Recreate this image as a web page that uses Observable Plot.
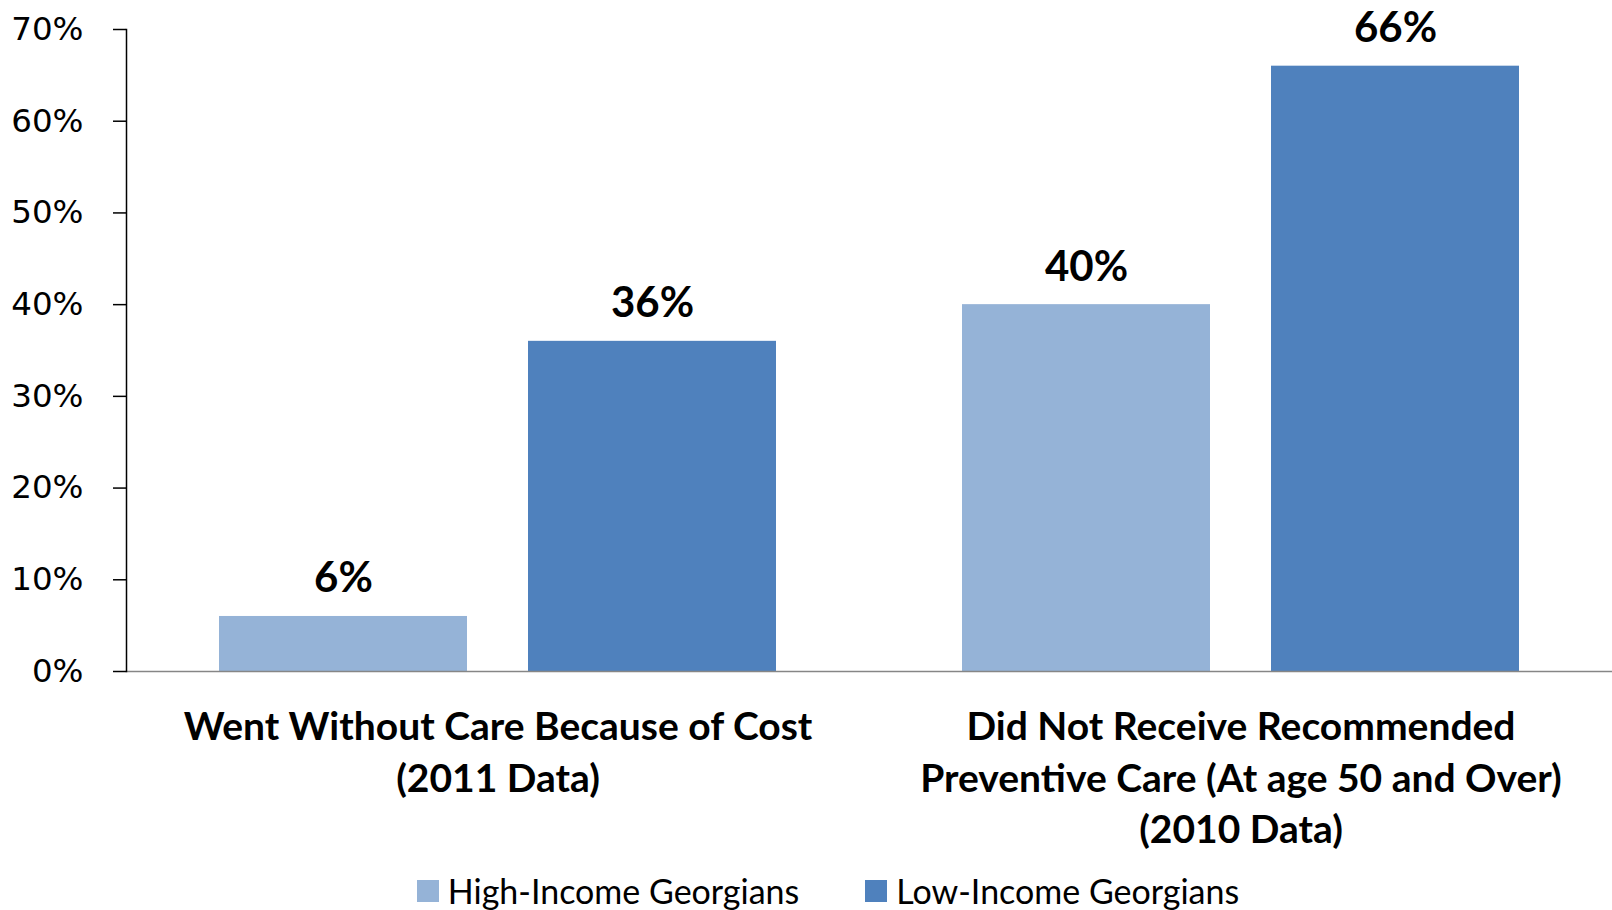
<!DOCTYPE html>
<html>
<head>
<meta charset="utf-8">
<script src="https://cdn.jsdelivr.net/npm/d3@7"></script>
<script src="https://cdn.jsdelivr.net/npm/@observablehq/plot@0.6"></script>
<style>
  html, body { margin: 0; padding: 0; background: #fff; }
  #chart { width: 1612px; }
  div.lg-swatches { justify-content: center; margin: 10px 0 0 0; font-family: Lato, sans-serif; font-size: 34px; color: #000; min-height: 0; padding-left: 44px; }
  span.lg-swatch { margin-right: 66px; }
  span.lg-swatch:last-child { margin-right: 0; }
  span.lg-swatch > svg { margin-right: 9px; }
</style>
</head>
<body>
<div id="chart"></div>
<script>
const categories = [
  "Went Without Care Because of Cost\n(2011 Data)",
  "Did Not Receive Recommended\nPreventive Care (At age 50 and Over)\n(2010 Data)"
];
const groups = ["High-Income Georgians", "Low-Income Georgians"];
const highIncome = [6, 40];
const lowIncome = [36, 66];
const yTicks = [0, 10, 20, 30, 40, 50, 60, 70];
const colors = ["#95B3D7", "#4F81BD"];

const data = [];
categories.forEach((c, i) => {
  data.push({category: c, group: groups[0], value: highIncome[i]});
  data.push({category: c, group: groups[1], value: lowIncome[i]});
});

const plot = Plot.plot({
  width: 1612,
  height: 860,
  marginLeft: 125,
  marginRight: 0,
  marginTop: 29,
  marginBottom: 189,
  style: {fontFamily: "Lato, sans-serif", background: "#fff", color: "#000"},
  fx: {domain: categories, padding: 0},
  x: {domain: groups, paddingInner: 0.197, paddingOuter: 0.2976, axis: null},
  y: {domain: [0, 70], axis: null},
  color: {domain: groups, range: colors},
  marks: [
    Plot.barY(data, {fx: "category", x: "group", y: "value", fill: "group"}),
    Plot.ruleY([0], {stroke: "#868686", strokeWidth: 1.5}),
    Plot.frame({anchor: "left", facetAnchor: "left", stroke: "#000", strokeWidth: 1.5}),
    Plot.axisY({
      ticks: yTicks,
      tickFormat: d => d + "%",
      tickSize: 13,
      tickPadding: 30,
      fontSize: 32.5,
      fontFamily: "DejaVu Sans, sans-serif",
      stroke: "#000",
      strokeWidth: 1.5,
      label: null
    }),
    Plot.axisFx({
      anchor: "bottom",
      tickSize: 0,
      tickPadding: 32,
      fontSize: 39,
      fontWeight: "bold",
      lineHeight: 1.32,
      label: null
    }),
    Plot.text(data, {
      fx: "category", x: "group", y: "value",
      text: d => d.value + "%",
      lineAnchor: "bottom",
      dy: -24,
      fontSize: 42,
      fontWeight: "bold"
    })
  ]
});

document.getElementById("chart").appendChild(plot);
const legend = plot.legend("color", {swatchSize: 22, className: "lg"});
document.getElementById("chart").appendChild(legend);
</script>
</body>
</html>
